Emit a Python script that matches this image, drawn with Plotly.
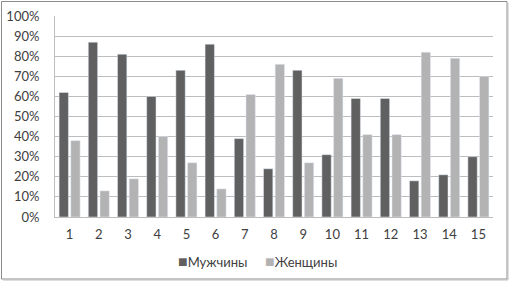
import plotly.graph_objects as go

categories = [str(i) for i in range(1, 16)]
men = [62, 87, 81, 60, 73, 86, 39, 24, 73, 31, 59, 59, 18, 21, 30]
women = [38, 13, 19, 40, 27, 14, 61, 76, 27, 69, 41, 41, 82, 79, 70]
series_names = ["Мужчины", "Женщины"]
series_colors = ["#606060", "#b3b3b3"]
tick_vals = [0, 10, 20, 30, 40, 50, 60, 70, 80, 90, 100]
tick_text = [f"{v}%" for v in tick_vals]

W, H = 509, 281
L, R, T, B = 55, 16, 16, 64
pw, ph = W - L - R, H - T - B

def px(x):
    return (x - L) / pw

def py(y):
    return (H - B - y) / ph

fig = go.Figure()
fig.add_bar(x=categories, y=men, name=series_names[0], marker_color=series_colors[0])
fig.add_bar(x=categories, y=women, name=series_names[1], marker_color=series_colors[1])

legend_font = dict(family="Lato, Liberation Sans, sans-serif", size=13, color="#404040")
annotations = [
    dict(xref="paper", yref="paper", x=px(176), y=py(260), xanchor="left", yanchor="middle",
         showarrow=False, font=legend_font,
         text=f"<span style='color:{series_colors[0]};font-size:16px'>■</span>{series_names[0]}"),
    dict(xref="paper", yref="paper", x=px(263), y=py(260), xanchor="left", yanchor="middle",
         showarrow=False, font=legend_font,
         text=f"<span style='color:{series_colors[1]};font-size:16px'>■</span>{series_names[1]}"),
]

fig.update_layout(
    width=W, height=H,
    margin=dict(l=L, r=R, t=T, b=B),
    paper_bgcolor="white", plot_bgcolor="white",
    barmode="group", bargap=0.2, bargroupgap=0.2,
    font=dict(family="Lato, Liberation Sans, sans-serif", size=13, color="#404040"),
    showlegend=False,
    annotations=annotations,
    shapes=[
        dict(type="rect", xref="paper", yref="paper",
             x0=px(1.5), x1=px(507), y0=py(279), y1=py(1.5),
             line=dict(color="#8c8c8c", width=1), layer="below"),
        dict(type="line", xref="paper", yref="paper",
             x0=px(508), x1=px(508), y0=py(280), y1=py(3),
             line=dict(color="#c0c0c0", width=1)),
        dict(type="line", xref="paper", yref="paper",
             x0=px(3), x1=px(508), y0=py(280), y1=py(280),
             line=dict(color="#c0c0c0", width=1)),
    ],
)
fig.update_xaxes(showgrid=False, showline=True, linecolor="#bdbdbd", linewidth=1,
                 ticks="", ticklabelstandoff=5, automargin=False,
                 tickfont=dict(size=13, color="#404040"))
fig.update_yaxes(range=[0, 100], tickvals=tick_vals, ticktext=tick_text,
                 showgrid=True, gridcolor="#bdbdbd", gridwidth=1,
                 showline=True, linecolor="#bdbdbd", linewidth=1,
                 ticks="", ticklabelstandoff=12, automargin=False,
                 zeroline=False, tickfont=dict(size=13, color="#404040"))

fig.write_html("out.html", config={"displayModeBar": False},
               post_script="document.body.style.margin='0px';document.body.style.overflow='hidden';")
